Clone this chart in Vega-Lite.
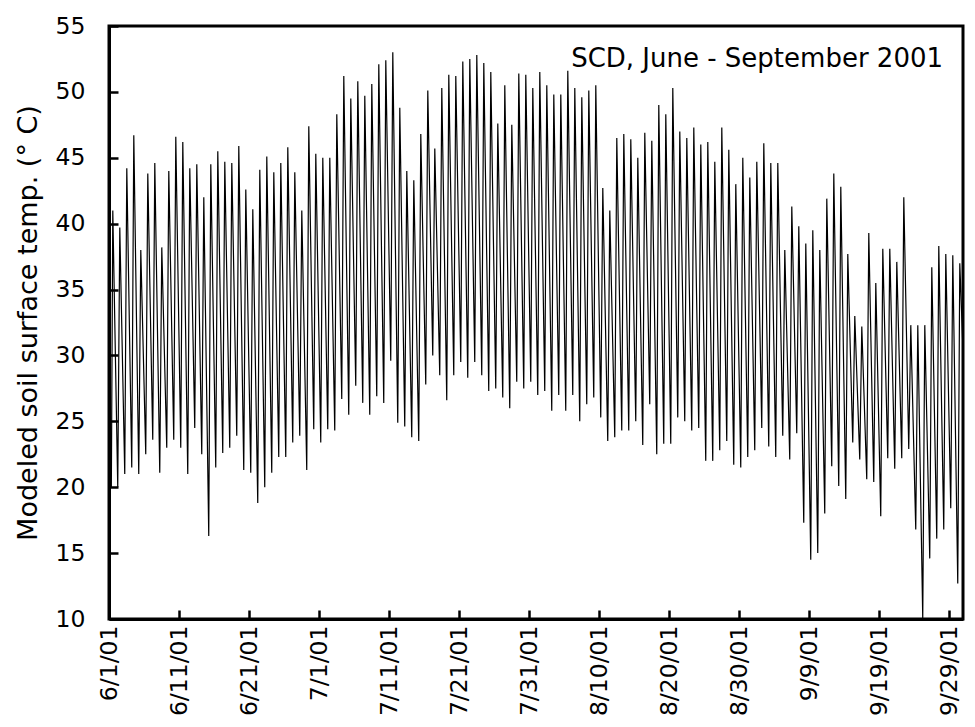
{
"$schema": "https://vega.github.io/schema/vega-lite/v6.json",
"width": 854, "height": 593,
"autosize": {"type": "none"},
"padding": {"left": 109, "top": 26, "right": 12, "bottom": 108},
"background": "white",
"config": {"view": {"stroke": "black", "strokeWidth": 3}, "font": "DejaVu Sans"},
"layer": [
{
"data": {"values": [
{"t":"2001-06-01T00:00","v":16.5},{"t":"2001-06-01T03:00","v":20},{"t":"2001-06-01T08:00","v":20},{"t":"2001-06-01T13:00","v":41},
{"t":"2001-06-02T06:00","v":20},{"t":"2001-06-02T13:00","v":39.7},
{"t":"2001-06-03T06:00","v":21},{"t":"2001-06-03T13:00","v":44.2},
{"t":"2001-06-04T06:00","v":21.5},{"t":"2001-06-04T13:00","v":46.7},
{"t":"2001-06-05T06:00","v":21},{"t":"2001-06-05T13:00","v":38},
{"t":"2001-06-06T06:00","v":22.5},{"t":"2001-06-06T13:00","v":43.8},
{"t":"2001-06-07T06:00","v":23.6},{"t":"2001-06-07T13:00","v":44.6},
{"t":"2001-06-08T06:00","v":21.1},{"t":"2001-06-08T13:00","v":38.2},
{"t":"2001-06-09T06:00","v":23},{"t":"2001-06-09T13:00","v":44},
{"t":"2001-06-10T06:00","v":23.6},{"t":"2001-06-10T13:00","v":46.6},
{"t":"2001-06-11T06:00","v":23},{"t":"2001-06-11T13:00","v":46.2},
{"t":"2001-06-12T06:00","v":21},{"t":"2001-06-12T13:00","v":44.2},
{"t":"2001-06-13T06:00","v":24.5},{"t":"2001-06-13T13:00","v":44.5},
{"t":"2001-06-14T06:00","v":22.5},{"t":"2001-06-14T13:00","v":42},
{"t":"2001-06-15T06:00","v":16.3},{"t":"2001-06-15T13:00","v":44.5},
{"t":"2001-06-16T06:00","v":21.5},{"t":"2001-06-16T13:00","v":45.5},
{"t":"2001-06-17T06:00","v":22.6},{"t":"2001-06-17T13:00","v":44.7},
{"t":"2001-06-18T06:00","v":23},{"t":"2001-06-18T13:00","v":44.6},
{"t":"2001-06-19T06:00","v":23.9},{"t":"2001-06-19T13:00","v":45.9},
{"t":"2001-06-20T06:00","v":21.3},{"t":"2001-06-20T13:00","v":42.6},
{"t":"2001-06-21T06:00","v":21.1},{"t":"2001-06-21T13:00","v":41.1},
{"t":"2001-06-22T06:00","v":18.8},{"t":"2001-06-22T13:00","v":44.1},
{"t":"2001-06-23T06:00","v":20},{"t":"2001-06-23T13:00","v":45.1},
{"t":"2001-06-24T06:00","v":21.1},{"t":"2001-06-24T13:00","v":43.9},
{"t":"2001-06-25T06:00","v":22.3},{"t":"2001-06-25T13:00","v":44.6},
{"t":"2001-06-26T06:00","v":22.3},{"t":"2001-06-26T13:00","v":45.8},
{"t":"2001-06-27T06:00","v":23.4},{"t":"2001-06-27T13:00","v":43.9},
{"t":"2001-06-28T06:00","v":23.9},{"t":"2001-06-28T13:00","v":41},
{"t":"2001-06-29T06:00","v":21.3},{"t":"2001-06-29T13:00","v":47.4},
{"t":"2001-06-30T06:00","v":24.4},{"t":"2001-06-30T13:00","v":45.3},
{"t":"2001-07-01T06:00","v":23.4},{"t":"2001-07-01T13:00","v":45},
{"t":"2001-07-02T06:00","v":24.4},{"t":"2001-07-02T13:00","v":45},
{"t":"2001-07-03T06:00","v":24.3},{"t":"2001-07-03T13:00","v":48.3},
{"t":"2001-07-04T06:00","v":26.7},{"t":"2001-07-04T13:00","v":51.2},
{"t":"2001-07-05T06:00","v":25.5},{"t":"2001-07-05T13:00","v":49.5},
{"t":"2001-07-06T06:00","v":27.7},{"t":"2001-07-06T13:00","v":50.8},
{"t":"2001-07-07T06:00","v":26.4},{"t":"2001-07-07T13:00","v":49.7},
{"t":"2001-07-08T06:00","v":25.5},{"t":"2001-07-08T13:00","v":50.6},
{"t":"2001-07-09T06:00","v":26.9},{"t":"2001-07-09T13:00","v":52.1},
{"t":"2001-07-10T06:00","v":26.4},{"t":"2001-07-10T13:00","v":52.4},
{"t":"2001-07-11T06:00","v":29.6},{"t":"2001-07-11T13:00","v":53},
{"t":"2001-07-12T06:00","v":24.9},{"t":"2001-07-12T13:00","v":48.8},
{"t":"2001-07-13T06:00","v":24.6},{"t":"2001-07-13T13:00","v":44},
{"t":"2001-07-14T06:00","v":23.8},{"t":"2001-07-14T13:00","v":43.3},
{"t":"2001-07-15T06:00","v":23.5},{"t":"2001-07-15T13:00","v":46.8},
{"t":"2001-07-16T06:00","v":27.8},{"t":"2001-07-16T13:00","v":50.1},
{"t":"2001-07-17T06:00","v":30},{"t":"2001-07-17T13:00","v":45.7},
{"t":"2001-07-18T06:00","v":28.5},{"t":"2001-07-18T13:00","v":50.3},
{"t":"2001-07-19T06:00","v":26.6},{"t":"2001-07-19T13:00","v":51.3},
{"t":"2001-07-20T06:00","v":28.5},{"t":"2001-07-20T13:00","v":51.2},
{"t":"2001-07-21T06:00","v":29.5},{"t":"2001-07-21T13:00","v":52.3},
{"t":"2001-07-22T06:00","v":28.3},{"t":"2001-07-22T13:00","v":52.5},
{"t":"2001-07-23T06:00","v":29.5},{"t":"2001-07-23T13:00","v":52.8},
{"t":"2001-07-24T06:00","v":28.5},{"t":"2001-07-24T13:00","v":52.2},
{"t":"2001-07-25T06:00","v":27.3},{"t":"2001-07-25T13:00","v":51.5},
{"t":"2001-07-26T06:00","v":27.5},{"t":"2001-07-26T13:00","v":47.6},
{"t":"2001-07-27T06:00","v":26.8},{"t":"2001-07-27T13:00","v":50.5},
{"t":"2001-07-28T06:00","v":26},{"t":"2001-07-28T13:00","v":47.5},
{"t":"2001-07-29T06:00","v":28},{"t":"2001-07-29T13:00","v":51.4},
{"t":"2001-07-30T06:00","v":27.5},{"t":"2001-07-30T13:00","v":51.3},
{"t":"2001-07-31T06:00","v":28},{"t":"2001-07-31T13:00","v":50.3},
{"t":"2001-08-01T06:00","v":27},{"t":"2001-08-01T13:00","v":51.5},
{"t":"2001-08-02T06:00","v":27.3},{"t":"2001-08-02T13:00","v":50.5},
{"t":"2001-08-03T06:00","v":25.8},{"t":"2001-08-03T13:00","v":49.8},
{"t":"2001-08-04T06:00","v":27},{"t":"2001-08-04T13:00","v":49.8},
{"t":"2001-08-05T06:00","v":25.8},{"t":"2001-08-05T13:00","v":51.6},
{"t":"2001-08-06T06:00","v":27},{"t":"2001-08-06T13:00","v":50.3},
{"t":"2001-08-07T06:00","v":25},{"t":"2001-08-07T13:00","v":49.6},
{"t":"2001-08-08T06:00","v":26.3},{"t":"2001-08-08T13:00","v":50.1},
{"t":"2001-08-09T06:00","v":26.8},{"t":"2001-08-09T13:00","v":50.5},
{"t":"2001-08-10T06:00","v":25.3},{"t":"2001-08-10T13:00","v":42.7},
{"t":"2001-08-11T06:00","v":23.5},{"t":"2001-08-11T13:00","v":41},
{"t":"2001-08-12T06:00","v":23.8},{"t":"2001-08-12T13:00","v":46.5},
{"t":"2001-08-13T06:00","v":24.3},{"t":"2001-08-13T13:00","v":46.8},
{"t":"2001-08-14T06:00","v":24.3},{"t":"2001-08-14T13:00","v":46.4},
{"t":"2001-08-15T06:00","v":25},{"t":"2001-08-15T13:00","v":45},
{"t":"2001-08-16T06:00","v":23.2},{"t":"2001-08-16T13:00","v":46.9},
{"t":"2001-08-17T06:00","v":26.3},{"t":"2001-08-17T13:00","v":46.3},
{"t":"2001-08-18T06:00","v":22.5},{"t":"2001-08-18T13:00","v":49},
{"t":"2001-08-19T06:00","v":23.3},{"t":"2001-08-19T13:00","v":48.3},
{"t":"2001-08-20T06:00","v":23.3},{"t":"2001-08-20T13:00","v":50.3},
{"t":"2001-08-21T06:00","v":25.3},{"t":"2001-08-21T13:00","v":47},
{"t":"2001-08-22T06:00","v":25},{"t":"2001-08-22T13:00","v":46.5},
{"t":"2001-08-23T06:00","v":24.3},{"t":"2001-08-23T13:00","v":47.3},
{"t":"2001-08-24T06:00","v":24.5},{"t":"2001-08-24T13:00","v":46},
{"t":"2001-08-25T06:00","v":22},{"t":"2001-08-25T13:00","v":46.2},
{"t":"2001-08-26T06:00","v":22},{"t":"2001-08-26T13:00","v":44.7},
{"t":"2001-08-27T06:00","v":22.8},{"t":"2001-08-27T13:00","v":47.3},
{"t":"2001-08-28T06:00","v":23.5},{"t":"2001-08-28T13:00","v":45.6},
{"t":"2001-08-29T06:00","v":21.7},{"t":"2001-08-29T13:00","v":43},
{"t":"2001-08-30T06:00","v":21.5},{"t":"2001-08-30T13:00","v":45},
{"t":"2001-08-31T06:00","v":22.3},{"t":"2001-08-31T13:00","v":43.5},
{"t":"2001-09-01T06:00","v":22.8},{"t":"2001-09-01T13:00","v":44.7},
{"t":"2001-09-02T06:00","v":24.5},{"t":"2001-09-02T13:00","v":46.1},
{"t":"2001-09-03T06:00","v":23.1},{"t":"2001-09-03T13:00","v":44.6},
{"t":"2001-09-04T06:00","v":22.3},{"t":"2001-09-04T13:00","v":44.6},
{"t":"2001-09-05T06:00","v":23.9},{"t":"2001-09-05T13:00","v":38},
{"t":"2001-09-06T06:00","v":22.1},{"t":"2001-09-06T13:00","v":41.3},
{"t":"2001-09-07T06:00","v":24.1},{"t":"2001-09-07T13:00","v":39.8},
{"t":"2001-09-08T06:00","v":17.3},{"t":"2001-09-08T13:00","v":38.5},
{"t":"2001-09-09T06:00","v":14.5},{"t":"2001-09-09T13:00","v":39.5},
{"t":"2001-09-10T06:00","v":15},{"t":"2001-09-10T13:00","v":38},
{"t":"2001-09-11T06:00","v":18},{"t":"2001-09-11T13:00","v":41.9},
{"t":"2001-09-12T06:00","v":21.6},{"t":"2001-09-12T13:00","v":43.8},
{"t":"2001-09-13T06:00","v":20.1},{"t":"2001-09-13T13:00","v":42.8},
{"t":"2001-09-14T06:00","v":19.1},{"t":"2001-09-14T13:00","v":37.7},
{"t":"2001-09-15T06:00","v":23.4},{"t":"2001-09-15T13:00","v":33},
{"t":"2001-09-16T06:00","v":22.1},{"t":"2001-09-16T13:00","v":32.2},
{"t":"2001-09-17T06:00","v":20.6},{"t":"2001-09-17T13:00","v":39.3},
{"t":"2001-09-18T06:00","v":20.4},{"t":"2001-09-18T13:00","v":35.5},
{"t":"2001-09-19T06:00","v":17.8},{"t":"2001-09-19T13:00","v":38.1},
{"t":"2001-09-20T06:00","v":22.2},{"t":"2001-09-20T13:00","v":38.1},
{"t":"2001-09-21T06:00","v":21.4},{"t":"2001-09-21T13:00","v":37.1},
{"t":"2001-09-22T06:00","v":22.2},{"t":"2001-09-22T13:00","v":42},
{"t":"2001-09-23T06:00","v":22.9},{"t":"2001-09-23T13:00","v":32.3},
{"t":"2001-09-24T06:00","v":16.8},{"t":"2001-09-24T13:00","v":32.3},
{"t":"2001-09-25T06:00","v":10},{"t":"2001-09-25T13:00","v":32.3},
{"t":"2001-09-26T06:00","v":14.6},{"t":"2001-09-26T13:00","v":36.7},
{"t":"2001-09-27T06:00","v":16.1},{"t":"2001-09-27T13:00","v":38.3},
{"t":"2001-09-28T06:00","v":16.8},{"t":"2001-09-28T13:00","v":37.7},
{"t":"2001-09-29T06:00","v":18.4},{"t":"2001-09-29T13:00","v":37.6},
{"t":"2001-09-30T06:00","v":12.7},{"t":"2001-09-30T13:00","v":37},
{"t":"2001-09-30T23:00","v":31}
]},
"mark": {"type": "line", "color": "black", "strokeWidth": 1.2, "clip": true},
"encoding": {
 "x": {"field": "t", "type": "temporal",
  "scale": {"domain": [{"year": 2001, "month": 6, "date": 1}, {"year": 2001, "month": 10, "date": 1}]},
  "axis": {"title": null, "grid": false,
   "values": [{"year":2001,"month":6,"date":1},{"year":2001,"month":6,"date":11},{"year":2001,"month":6,"date":21},{"year":2001,"month":7,"date":1},{"year":2001,"month":7,"date":11},{"year":2001,"month":7,"date":21},{"year":2001,"month":7,"date":31},{"year":2001,"month":8,"date":10},{"year":2001,"month":8,"date":20},{"year":2001,"month":8,"date":30},{"year":2001,"month":9,"date":9},{"year":2001,"month":9,"date":19},{"year":2001,"month":9,"date":29}],
   "format": "%-m/%-d/%y", "labelAngle": 270, "labelFont": "DejaVu Sans", "labelFontSize": 23.5, "labelColor": "black",
   "labelOverlap": false, "tickSize": -9, "tickWidth": 2.5, "tickColor": "black", "domainColor": "black", "domainWidth": 3, "labelPadding": 15}},
 "y": {"field": "v", "type": "quantitative",
  "scale": {"domain": [10, 55], "nice": false, "zero": false},
  "axis": {"title": "Modeled soil surface temp. (° C)", "grid": false, "values": [10,15,20,25,30,35,40,45,50,55],
   "labelFont": "DejaVu Sans", "labelFontSize": 23.5, "labelColor": "black", "labelOverlap": false,
   "tickSize": -9, "tickWidth": 2.5, "tickColor": "black", "domainColor": "black", "domainWidth": 3, "labelPadding": 33,
   "titleFont": "DejaVu Sans", "titleFontSize": 27, "titleFontWeight": "normal", "titleColor": "black", "titlePadding": 13}}
}
},
{
"data": {"values": [{"label": "SCD, June - September 2001"}]},
"mark": {"type": "text", "align": "right", "baseline": "alphabetic", "font": "DejaVu Sans", "fontSize": 26, "color": "black"},
"encoding": {
 "x": {"datum": {"year": 2001, "month": 9, "date": 28, "hours": 3, "minutes": 30}, "type": "temporal"},
 "y": {"datum": 51.9, "type": "quantitative"},
 "text": {"field": "label"}
}
}
]
}
